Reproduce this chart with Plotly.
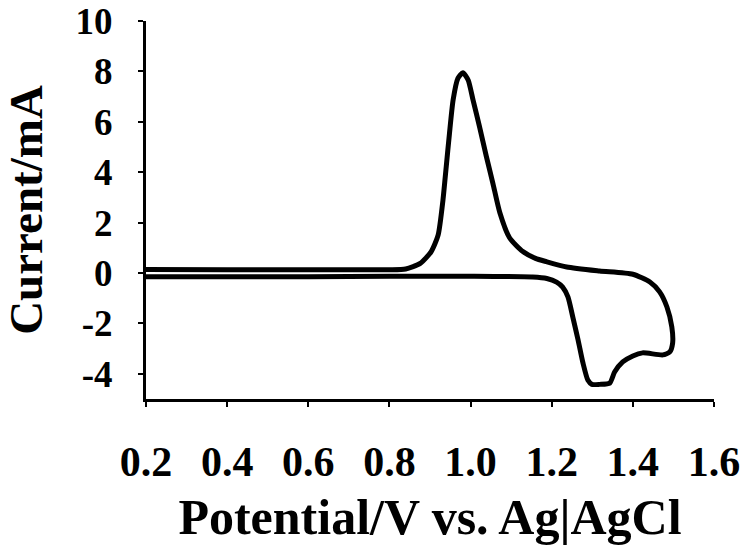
import plotly.graph_objects as go

# cyclic voltammogram, traced as one closed path (upper branch -> reduction loop -> lower branch)
potential = [0.20, 0.40, 0.60, 0.80, 0.84, 0.876, 0.903, 0.920, 0.932, 0.940, 0.948, 0.957,
             0.969, 0.981, 0.994, 1.006, 1.022, 1.039, 1.055, 1.072, 1.096, 1.129, 1.160,
             1.187, 1.237, 1.318, 1.400, 1.442, 1.466, 1.484, 1.496, 1.498, 1.491, 1.474,
             1.424, 1.400, 1.375, 1.355, 1.343, 1.318, 1.299, 1.289, 1.277, 1.265, 1.252,
             1.240, 1.227, 1.212, 1.188, 1.153, 1.00, 0.80, 0.60, 0.40, 0.20]
current = [0.14, 0.13, 0.13, 0.13, 0.16, 0.38, 0.85, 1.50, 2.90, 4.22, 5.54, 6.87,
           7.73, 7.95, 7.66, 6.87, 5.81, 4.62, 3.56, 2.40, 1.40, 0.85, 0.58,
           0.45, 0.24, 0.08, -0.05, -0.36, -0.75, -1.35, -2.14, -2.78, -3.13, -3.25,
           -3.17, -3.29, -3.53, -3.93, -4.37, -4.42, -4.42, -4.25, -3.57, -2.66, -1.75,
           -0.95, -0.56, -0.36, -0.22, -0.16, -0.13, -0.13, -0.15, -0.15, -0.15]

x_ticks = [0.2, 0.4, 0.6, 0.8, 1.0, 1.2, 1.4, 1.6]
x_labels = ['0.2', '0.4', '0.6', '0.8', '1.0', '1.2', '1.4', '1.6']
y_ticks = [-4, -2, 0, 2, 4, 6, 8, 10]
y_labels = ['-4', '-2', '0', '2', '4', '6', '8', '10']

font_name = 'Liberation Serif'

trace = go.Scatter(x=potential, y=current, mode='lines', line_shape='spline',
                   line=dict(color='black', width=5, smoothing=0.6), showlegend=False)

layout = go.Layout(
    width=750, height=553,
    paper_bgcolor='white', plot_bgcolor='white',
    margin=dict(l=146, r=36, t=21, b=154),
    font=dict(family=font_name, color='black'),
    xaxis=dict(
        range=[0.2, 1.6], automargin=False,
        tickvals=x_ticks, ticktext=x_labels,
        showline=True, linecolor='black', linewidth=3,
        ticks='outside', ticklen=5, tickwidth=2, tickcolor='black',
        ticklabelstandoff=19, ticklabeloverflow='allow',
        tickfont=dict(size=42, weight='bold', family=font_name),
        showgrid=False, zeroline=False,
        title=dict(text='Potential/V vs. Ag|AgCl', standoff=15,
                   font=dict(size=50, weight='bold', family=font_name)),
    ),
    yaxis=dict(
        range=[-5, 10], automargin=False,
        tickvals=y_ticks, ticktext=y_labels,
        showline=True, linecolor='black', linewidth=3,
        ticks='outside', ticklen=5, tickwidth=2, tickcolor='black',
        ticklabelstandoff=18, ticklabeloverflow='allow',
        tickfont=dict(size=37, weight='bold', family=font_name),
        showgrid=False, zeroline=False,
        title=dict(text='Current/mA', standoff=28,
                   font=dict(size=47, weight='bold', family=font_name)),
    ),
)

fig = go.Figure(data=[trace], layout=layout)
# drop the browser's default page margin so the figure sits at the window corner
fig.write_html('out.html', config={'displayModeBar': False},
               post_script="document.body.style.margin='0';")
